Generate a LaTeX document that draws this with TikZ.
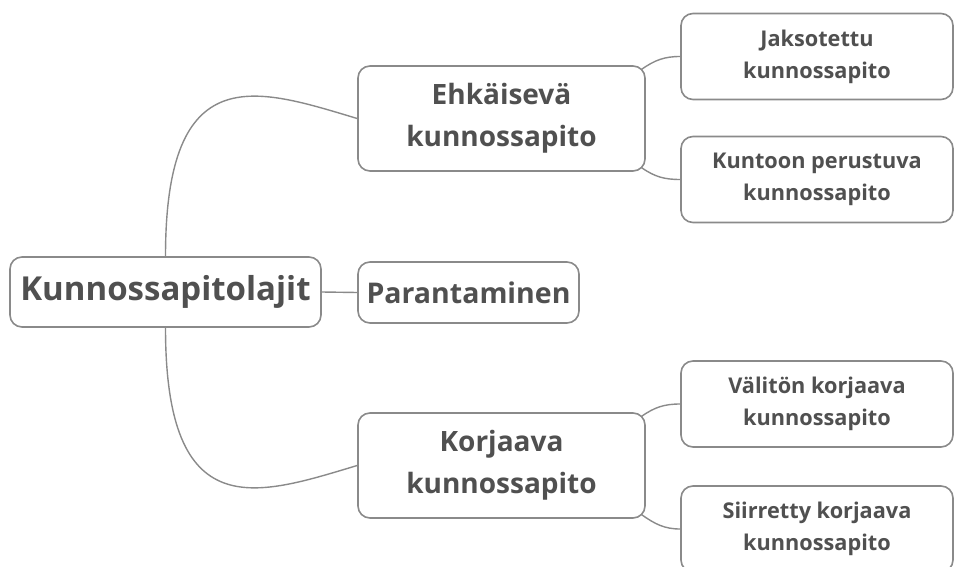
\documentclass[tikz,border=0pt]{standalone}
\usepackage{fontspec}
\setmainfont{Open Sans}
\usetikzlibrary{calc}
\definecolor{boxline}{HTML}{8A8A8A}
\definecolor{boxtext}{HTML}{505050}

\begin{document}
\begin{tikzpicture}[
        x = 1pt, y = 1pt,
        box/.style = {%
            draw = boxline, line width = 1.6pt, rounded corners = 12pt,
            fill = white, text = boxtext, align = center,
            inner sep = 0pt, font = \bfseries
        },
        topic/.style  = {box, minimum width = 311pt, minimum height = 70pt,
                         font = \bfseries\fontsize{33}{38}\selectfont},
        branch/.style = {box, minimum width = 287pt, minimum height = 105pt,
                         font = \bfseries\fontsize{28}{42}\selectfont},
        leaf/.style   = {box, minimum width = 272pt, minimum height = 86pt,
                         font = \bfseries\fontsize{21.7}{32}\selectfont},
        link/.style   = {draw = boxline, line width = 1.4pt}
    ]

        % Page.
        \useasboundingbox (0, 0) rectangle (955, 566);
        \clip (0, 0) rectangle (955, 566);

        % Main topic and branches.
        \node[topic]  (root) at (165.5, 274)   {Kunnossapitolajit};
        \node[branch] (ehk)  at (501.5, 447.5) {Ehkäisevä\\kunnossapito};
        \node[box, minimum width = 221pt, minimum height = 61pt,
              font = \bfseries\fontsize{28.5}{32}\selectfont]
                      (par)  at (468.5, 273.5) {Parantaminen};
        \node[branch] (kor)  at (501.5, 100.5) {Korjaava\\kunnossapito};

        % Leaves.
        \node[leaf] (jak) at (817, 509.5) {Jaksotettu\\kunnossapito};
        \node[leaf] (kun) at (817, 386.5) {Kuntoon perustuva\\kunnossapito};
        \node[leaf] (val) at (817, 162)   {Välitön korjaava\\kunnossapito};
        \node[leaf] (sii) at (817, 37)    {Siirretty korjaava\\kunnossapito};

        % Links between topics.
        \begin{scope}[link]
            \draw (root.north) .. controls +(0, 200) and +(-100, 30) .. (ehk.west);
            \draw (root.south) .. controls +(0, -200) and +(-100, -30) .. (kor.west);
            \draw (root.east) -- (par.west);
            \draw ([xshift=-4pt, yshift=-4pt]ehk.north east) to[out=35, in=180] (jak.west);
            \draw ([xshift=-4pt, yshift=4pt]ehk.south east) to[out=-35, in=180] (kun.west);
            \draw ([xshift=-4pt, yshift=-4pt]kor.north east) to[out=35, in=180] (val.west);
            \draw ([xshift=-4pt, yshift=4pt]kor.south east) to[out=-35, in=180] (sii.west);
        \end{scope}
    \end{tikzpicture}
\end{document}
